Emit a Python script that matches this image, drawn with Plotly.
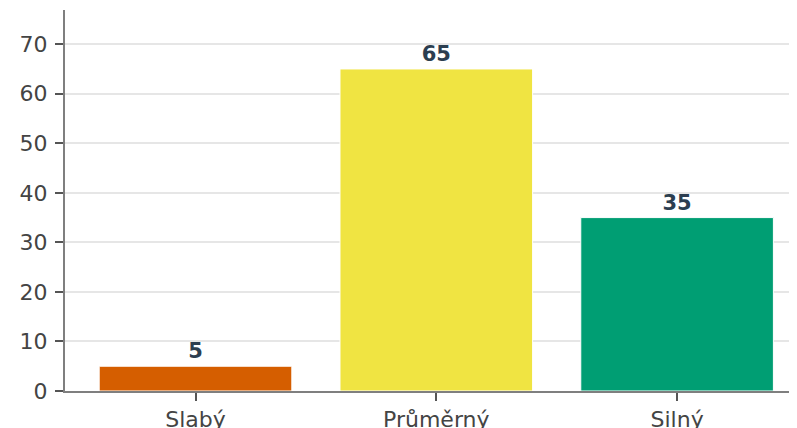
import plotly.graph_objects as go

categories = ["Slabý", "Průměrný", "Silný"]
values = [5, 65, 35]
colors = ["#D55E00", "#F0E442", "#009E73"]
y_ticks = [0, 10, 20, 30, 40, 50, 60, 70]

fig = go.Figure()
fig.add_trace(go.Bar(
    x=categories, y=values,
    marker=dict(color=colors, line=dict(color="white", width=1)),
    width=0.8,
    text=[str(v) for v in values],
    textposition="outside",
    textfont=dict(family="DejaVu Sans", size=21, color="#2c3e50", weight="bold"),
    cliponaxis=False,
))

fig.update_layout(
    width=797, height=428,
    margin=dict(l=57, r=8, t=2, b=45),
    paper_bgcolor="white", plot_bgcolor="white",
    showlegend=False,
    font=dict(family="DejaVu Sans", color="#444444"),
)
fig.update_xaxes(
    type="category", range=[-0.542, 2.498],
    showline=True, linecolor="#7f7f7f", linewidth=2,
    ticks="outside", ticklen=8, tickcolor="#555555", tickwidth=1.5,
    tickfont=dict(size=22, color="#444444"),
    showgrid=False,
)
fig.update_yaxes(
    range=[0, 76.9], tickvals=y_ticks,
    showline=True, linecolor="#7f7f7f", linewidth=2,
    ticks="outside", ticklen=8, tickcolor="#555555", tickwidth=1.5,
    tickfont=dict(size=22, color="#444444"),
    ticklabelstandoff=3,
    showgrid=True, gridcolor="#e6e6e6", gridwidth=1.5,
    zeroline=False,
)

fig.write_html("out.html")
